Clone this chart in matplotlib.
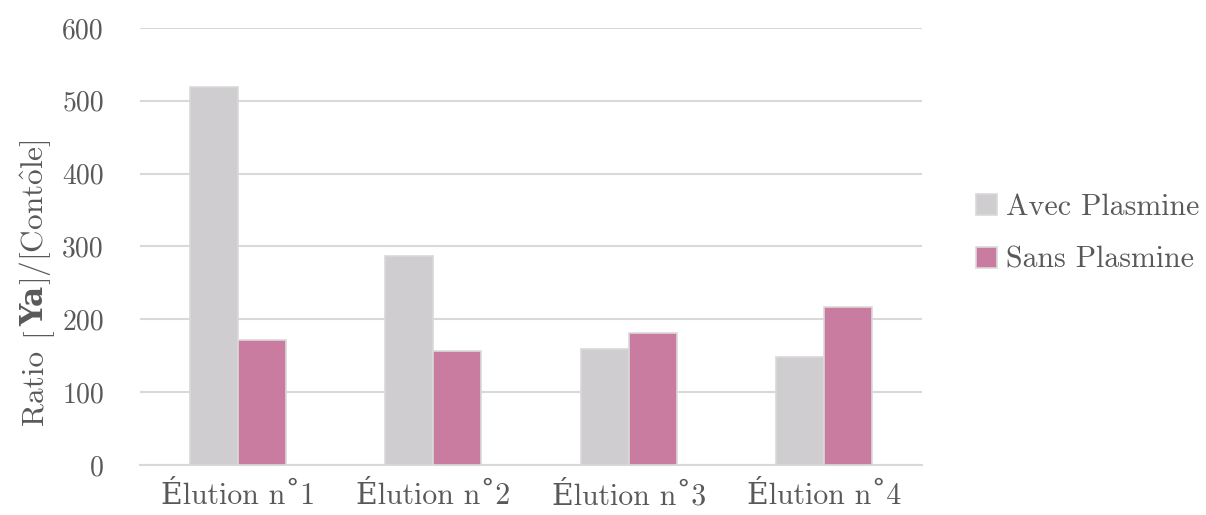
import numpy as np
import matplotlib.pyplot as plt

plt.rcParams['font.family'] = ['cmr10', 'DejaVu Serif']
plt.rcParams['mathtext.fontset'] = 'cm'
plt.rcParams['axes.unicode_minus'] = False

# data
categories = ["Élution n\u02da1", "Élution n\u02da2", "Élution n\u02da3", "Élution n\u02da4"]
avec = [519, 287, 159, 148]
sans = [172, 156, 181, 217]

txt = "#595959"
grid = "#d9d9d9"

fig = plt.figure(figsize=(12.06, 5.15), dpi=100)
ax = fig.add_axes([140/1206, 1-465/515, (922-140)/1206, (465-28)/515])

x = np.arange(len(categories))
w = 0.245
ax.bar(x - w/2, avec, w, color="#cfcdcf", edgecolor=grid, linewidth=1.2, label="Avec Plasmine", zorder=3)
ax.bar(x + w/2, sans, w, color="#c97ba0", edgecolor=grid, linewidth=1.2, label="Sans Plasmine", zorder=3)

ax.set_xlim(-0.5, 3.5)
ax.set_ylim(0, 600)
ax.set_yticks(range(0, 601, 100))
ax.set_xticks(x)
ax.set_xticklabels(categories)
ax.yaxis.grid(True, color=grid, linewidth=1.5, zorder=0)
ax.tick_params(length=0, labelsize=20, colors=txt)
ax.tick_params(axis='y', pad=26)
ax.tick_params(axis='x', labelsize=21.5, pad=12)
for s in ["top", "right", "left"]:
    ax.spines[s].set_visible(False)
ax.spines["bottom"].set_color(grid)
ax.spines["bottom"].set_linewidth(1.5)

# y label in pieces so "Ya" can be heavy
fig.canvas.draw()
rend = fig.canvas.get_renderer()
pieces = [("Ratio", ['cmr10'], 'normal', 425, 0),
          ("[", ['cmr10'], 'normal', 336, 1),
          ("Ya", ['DejaVu Serif'], 'bold', None, 1),
          (r"]/[Cont$\hat{\mathrm{o}}$le]", ['cmr10'], 'normal', None, 0)]
ypix = 0
for s, fam, wt, start, gap in pieces:
    if start is not None:
        ypix = start
    t = fig.text(43/1206, 1 - ypix/515, s, rotation=90, rotation_mode='anchor',
                 ha='left', va='baseline', fontsize=22.5, color=txt, family=fam, fontweight=wt)
    bb = t.get_window_extent(rend)
    ypix -= bb.height + gap

leg = ax.legend(loc="center left", bbox_to_anchor=(1.035, 0.53), frameon=False, fontsize=21.5,
                labelspacing=0.85, handlelength=0.7, handleheight=0.7, handletextpad=0.3, labelcolor=txt)

fig.savefig("out.png", dpi=100)
